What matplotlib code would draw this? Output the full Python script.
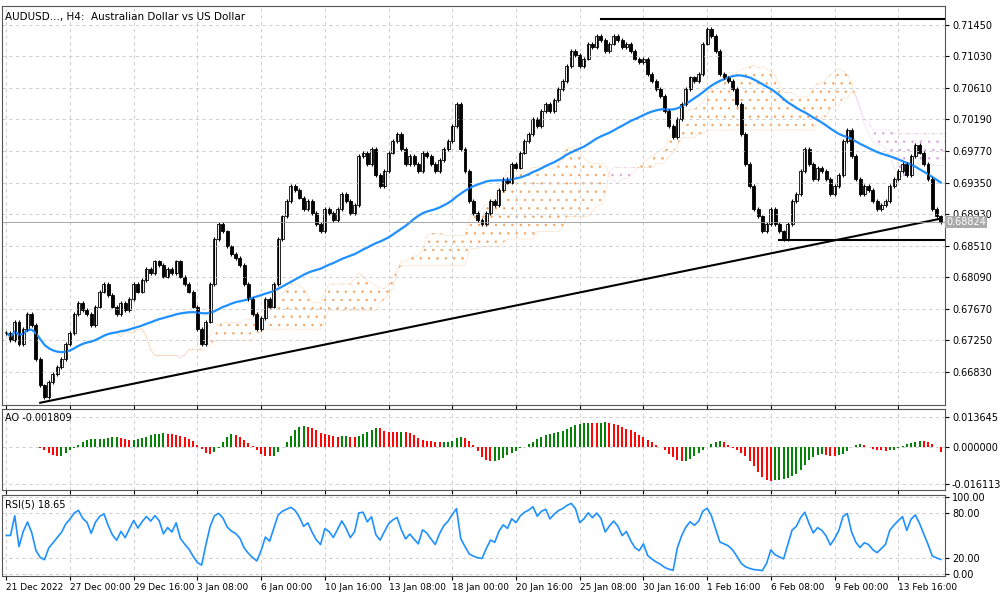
import numpy as np
import pandas as pd
import matplotlib
matplotlib.use("Agg")
import matplotlib.pyplot as plt
from matplotlib.patches import Rectangle

closes = [
0.6735,0.6725,0.6750,0.6720,0.6740,0.6760,0.6745,0.6700,0.6665,0.6650,0.6670,0.6680,0.6690,0.6700,0.6720,0.6735,
0.6760,0.6775,0.6765,0.6760,0.6745,0.6770,0.6790,0.6800,0.6785,0.6770,0.6760,0.6775,0.6765,0.6780,0.6800,0.6790,
0.6805,0.6820,0.6815,0.6830,0.6825,0.6810,0.6820,0.6815,0.6830,0.6810,0.6800,0.6790,0.6770,0.6740,0.6720,0.6750,
0.6800,0.6860,0.6880,0.6870,0.6850,0.6840,0.6835,0.6825,0.6800,0.6780,0.6760,0.6740,0.6755,0.6780,0.6770,0.6800,
0.6860,0.6890,0.6910,0.6930,0.6925,0.6915,0.6900,0.6910,0.6895,0.6880,0.6870,0.6900,0.6895,0.6885,0.6900,0.6920,
0.6910,0.6895,0.6905,0.6970,0.6975,0.6960,0.6980,0.6945,0.6930,0.6950,0.6975,0.6990,0.7000,0.6980,0.6960,0.6970,
0.6960,0.6950,0.6975,0.6970,0.6960,0.6950,0.6965,0.6980,0.6990,0.7010,0.7040,0.6980,0.6950,0.6910,0.6895,0.6885,
0.6880,0.6895,0.6910,0.6905,0.6925,0.6940,0.6935,0.6960,0.6955,0.6975,0.6990,0.7000,0.7020,0.7010,0.7030,0.7040,
0.7030,0.7045,0.7060,0.7070,0.7090,0.7110,0.7105,0.7090,0.7100,0.7120,0.7115,0.7130,0.7125,0.7110,0.7120,0.7130,
0.7125,0.7115,0.7120,0.7110,0.7100,0.7095,0.7100,0.7080,0.7070,0.7060,0.7050,0.7030,0.7010,0.6995,0.7020,0.7040,
0.7060,0.7075,0.7070,0.7080,0.7120,0.7140,0.7130,0.7110,0.7080,0.7075,0.7070,0.7060,0.7040,0.7000,0.6960,0.6930,
0.6900,0.6890,0.6870,0.6880,0.6900,0.6880,0.6870,0.6860,0.6880,0.6910,0.6920,0.6950,0.6980,0.6960,0.6940,0.6955,
0.6950,0.6940,0.6920,0.6930,0.6945,0.6990,0.7005,0.6970,0.6940,0.6920,0.6930,0.6925,0.6910,0.6900,0.6905,0.6910,
0.6930,0.6940,0.6950,0.6960,0.6945,0.6970,0.6985,0.6975,0.6960,0.6940,0.6900,0.6890,0.6882]
date_labels = ["21 Dec 2022","27 Dec 00:00","29 Dec 16:00","3 Jan 08:00","6 Jan 00:00","10 Jan 16:00",
               "13 Jan 08:00","18 Jan 00:00","20 Jan 16:00","25 Jan 08:00","30 Jan 16:00","1 Feb 16:00",
               "6 Feb 08:00","9 Feb 00:00","13 Feb 16:00"]
price_ticks = [0.66830,0.67250,0.67670,0.68090,0.68510,0.68930,0.69350,0.69770,0.70190,0.70610,0.71030,0.71450]
last_price = 0.68824
trend_pts = ([8, 220], [0.6642, 0.6887])
hlines = [(140, 0.7153), (182, 0.6858)]

c = np.array(closes); n = len(c); x = np.arange(n)
o = np.r_[c[0], c[:-1]]
hi = np.maximum(o, c) + 0.00025
lo = np.minimum(o, c) - 0.00025
s = pd.Series(c); H = pd.Series(hi); L = pd.Series(lo)
ma = s.rolling(50, min_periods=1).mean()
ten = (H.rolling(9, min_periods=1).max() + L.rolling(9, min_periods=1).min())/2
kij = (H.rolling(26, min_periods=1).max() + L.rolling(26, min_periods=1).min())/2
spa = ((ten+kij)/2).values
spb = ((H.rolling(52, min_periods=1).max() + L.rolling(52, min_periods=1).min())/2).values
xs = x + 26
med = (H+L)/2
ao = (med.rolling(5, min_periods=1).mean() - med.rolling(34, min_periods=1).mean()).values
d = s.diff().fillna(0)
up = d.clip(lower=0).ewm(alpha=1/5, adjust=False).mean(); dn = (-d.clip(upper=0)).ewm(alpha=1/5, adjust=False).mean()
rsi = (100 - 100/(1+up/(dn+1e-12))).values
rsi[:2] = 50

plt.rcParams["hatch.linewidth"] = 0.5
fig = plt.figure(figsize=(10, 6), dpi=100)
W = 0.945
ax = fig.add_axes([0.002, 0.325, W-0.002, 0.665])
ax2 = fig.add_axes([0.002, 0.183, W-0.002, 0.135], sharex=ax)
ax3 = fig.add_axes([0.002, 0.04, W-0.002, 0.135], sharex=ax)
for a in (ax, ax2, ax3):
    a.grid(True, color="#c8c8c8", ls=(0, (4, 4)), lw=0.6)
    a.yaxis.tick_right()
    a.tick_params(labelsize=7, length=3, pad=2)
    for sp in a.spines.values(): sp.set_color("#555555")

ax.fill_between(xs, spa, spb, where=spa >= spb, facecolor="none", edgecolor="#f4a460", hatch="..", lw=0.4, ls=":", interpolate=True)
ax.fill_between(xs, spa, spb, where=spa < spb, facecolor="none", edgecolor="#dda0dd", hatch="..", lw=0.4, ls=":", interpolate=True)
ax.plot(x, ma, color="#1e90ff", lw=1.6)
for i in range(n):
    ax.vlines(x[i], lo[i], hi[i], color="black", lw=0.8)
    b0, b1 = min(o[i], c[i]), max(o[i], c[i])
    ax.add_patch(Rectangle((x[i]-0.35, b0), 0.7, max(b1-b0, 0.00004),
                 facecolor="white" if c[i] >= o[i] else "black", edgecolor="black", lw=0.6))
ax.plot(trend_pts[0], trend_pts[1], color="black", lw=1.5)
for x0, y0 in hlines:
    ax.plot([x0, n], [y0, y0], color="black", lw=1.5)
ax.set_xlim(-1, n)
ax.set_ylim(0.6639, 0.7170)
ax.set_yticks(price_ticks); ax.set_yticklabels([f"{v:.5f}" for v in price_ticks])
ax.axhline(last_price, color="#999999", lw=0.6)
ax.text(1.001, last_price, f"{last_price:.5f}", transform=ax.get_yaxis_transform(), va="center", ha="left",
        fontsize=7, color="white", bbox=dict(facecolor="#aaaaaa", edgecolor="none", pad=1))
ax.text(0.003, 0.985, "AUDUSD..., H4:  Australian Dollar vs US Dollar", transform=ax.transAxes, fontsize=7.5, va="top")
plt.setp(ax.get_xticklabels(), visible=False)

cols = ["#008000" if i == 0 or ao[i] >= ao[i-1] else "#ff0000" for i in range(n)]
ax2.vlines(x, 0, ao, colors=cols, lw=1.4)
ax2.set_ylim(-0.019, 0.017)
ax2.set_yticks([-0.016113, 0, 0.013645]); ax2.set_yticklabels(["-0.016113", "0.000000", "0.013645"])
ax2.text(0.003, 0.95, f"AO {ao[-1]:.6f}", transform=ax2.transAxes, fontsize=7, va="top")
plt.setp(ax2.get_xticklabels(), visible=False)

ax3.plot(x, rsi, color="#1e90ff", lw=1.2)
ax3.set_ylim(-3, 103)
ax3.set_yticks([0, 20, 80, 100]); ax3.set_yticklabels(["0.00", "20.00", "80.00", "100.00"])
ax3.text(0.003, 0.95, f"RSI(5) {rsi[-1]:.2f}", transform=ax3.transAxes, fontsize=7, va="top")
ax3.set_xticks(np.arange(len(date_labels))*15)
ax3.set_xticklabels(date_labels, fontsize=6.5, ha="left")
fig.savefig("out.png", dpi=100, facecolor="white")
